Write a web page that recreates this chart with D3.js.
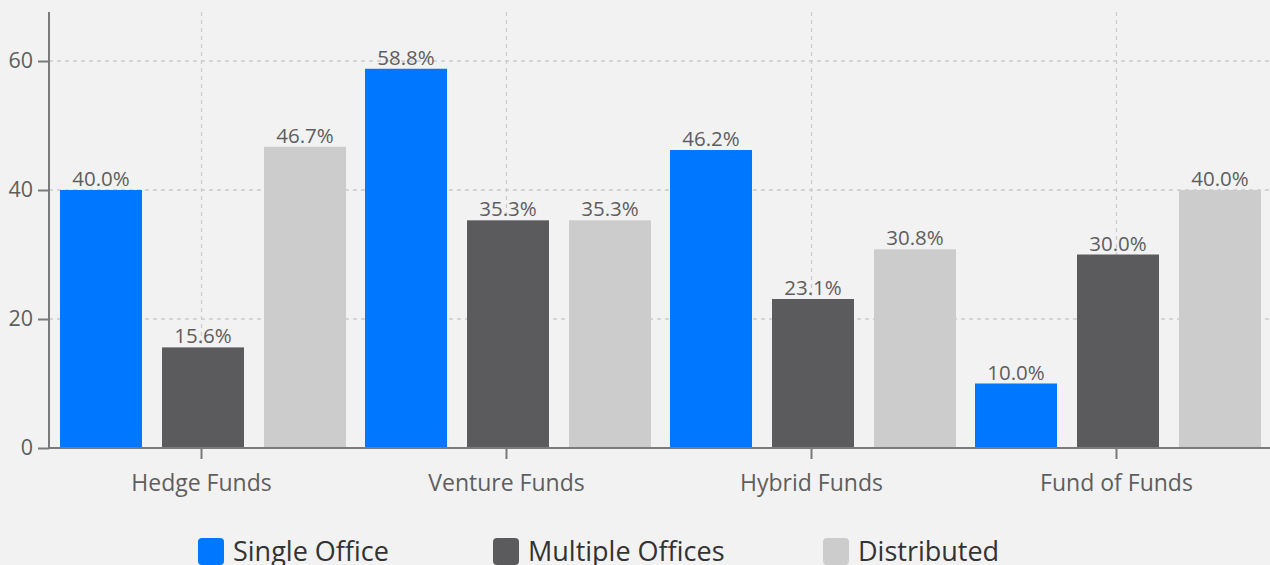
<!DOCTYPE html>
<html><head><meta charset="utf-8">
<script src="https://cdn.jsdelivr.net/npm/d3@7"></script>
<style>
html,body{margin:0;padding:0;background:#f2f2f2;overflow:hidden;}
svg{display:block;font-family:"Open Sans",sans-serif;}
</style></head>
<body><svg id="c" width="1270" height="565"></svg>
<script>
const categories = ["Hedge Funds","Venture Funds","Hybrid Funds","Fund of Funds"];
const seriesNames = ["Single Office","Multiple Offices","Distributed"];
const singleOffice = [40.0, 58.8, 46.2, 10.0];
const multipleOffices = [15.6, 35.3, 23.1, 30.0];
const distributed = [46.7, 35.3, 30.8, 40.0];
const yTicks = [0, 20, 40, 60];
const colors = ["#0077ff", "#5b5b5d", "#cccccc"];

(function(){
const seriesValues = [singleOffice, multipleOffices, distributed];
const svg = d3.select("#c");
const mLeft = 49, mRight = 1269, mTop = 12, mBottom = 448;

const y = d3.scaleLinear().domain([0, 67.6]).range([mBottom, mTop]);
const x0 = d3.scaleBand().domain(categories).range([mLeft, mRight]).padding(0);
const x1 = d3.scaleBand().domain(seriesNames).range([11, 297]).paddingInner(20/102).paddingOuter(0);

// gridlines
const grid = svg.append("g");
grid.selectAll("line.h").data(yTicks.filter(d => d > 0)).join("line")
  .attr("x1", mLeft).attr("x2", 1270)
  .attr("y1", d => y(d)).attr("y2", d => y(d))
  .attr("stroke", "#cccccc").attr("stroke-width", 1.3).attr("stroke-dasharray", "4,4");
grid.selectAll("line.v").data(categories).join("line")
  .attr("x1", d => x0(d) + x0.bandwidth()/2).attr("x2", d => x0(d) + x0.bandwidth()/2)
  .attr("y1", mTop).attr("y2", mBottom)
  .attr("stroke", "#cccccc").attr("stroke-width", 1.3).attr("stroke-dasharray", "4,4");

// bars
const rows = [];
categories.forEach((c, i) => seriesNames.forEach((s, j) => rows.push({c, s, j, v: seriesValues[j][i]})));
svg.append("g").selectAll("rect").data(rows).join("rect")
  .attr("x", d => x0(d.c) + x1(d.s))
  .attr("width", x1.bandwidth())
  .attr("y", d => y(d.v))
  .attr("height", d => y(0) - y(d.v))
  .attr("fill", d => colors[d.j]);

svg.append("g").selectAll("text").data(rows).join("text")
  .attr("x", d => x0(d.c) + x1(d.s) + x1.bandwidth()/2)
  .attr("y", d => y(d.v) - 4)
  .attr("text-anchor", "middle")
  .attr("font-size", 20.5)
  .attr("fill", "#5e5e5e")
  .text(d => d.v.toFixed(1) + "%");

// axes
const yAxis = svg.append("g").attr("transform", `translate(${mLeft},0)`)
  .call(d3.axisLeft(y).tickValues(yTicks).tickSize(11).tickPadding(5).tickFormat(d3.format("d")));
yAxis.select(".domain").attr("d", `M0,${mTop}V${mBottom}`);
const xAxis = svg.append("g").attr("transform", `translate(0,${mBottom})`)
  .call(d3.axisBottom(x0).tickSize(11).tickPadding(16));
xAxis.select(".domain").attr("d", `M${mLeft},0H1270`);
[yAxis, xAxis].forEach(a => {
  a.select(".domain").attr("stroke", "#7a7a7a").attr("stroke-width", 2);
  a.selectAll(".tick line").attr("stroke", "#7a7a7a").attr("stroke-width", 2);
  a.selectAll(".tick text").attr("fill", "#5e5e5e").attr("font-family", "Open Sans");
});
yAxis.selectAll(".tick text").attr("font-size", 21.5);
xAxis.selectAll(".tick text").attr("font-size", 23);

// legend
const legendX = [198, 493, 823];
const lg = svg.append("g");
seriesNames.forEach((s, j) => {
  lg.append("rect").attr("x", legendX[j]).attr("y", 538).attr("width", 26).attr("height", 27)
    .attr("rx", 4).attr("fill", colors[j]);
  lg.append("text").attr("x", legendX[j] + 35).attr("y", 561)
    .attr("font-size", 27).attr("fill", "#333").text(s);
});
})();
</script></body></html>
